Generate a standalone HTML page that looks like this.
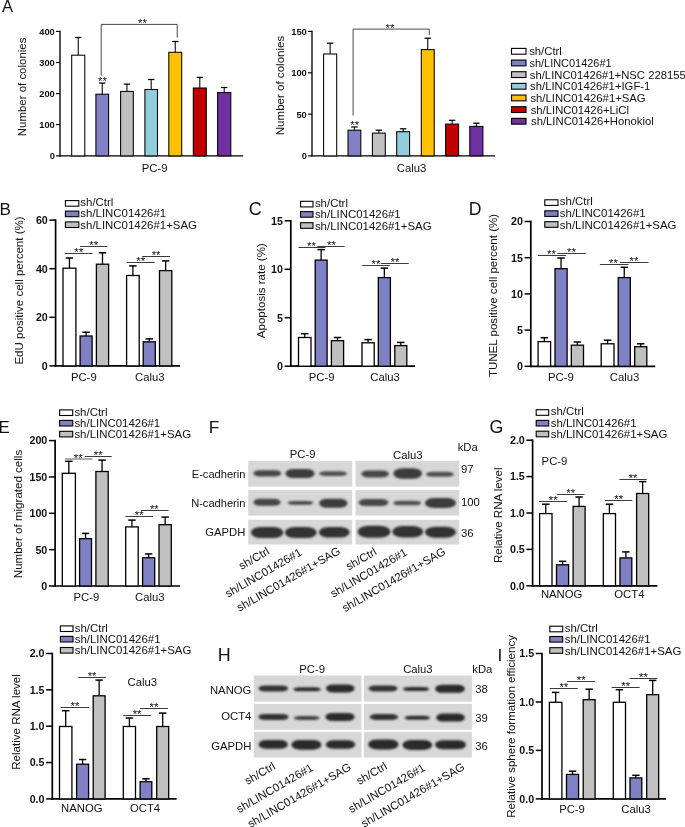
<!DOCTYPE html>
<html lang="en"><head><meta charset="utf-8"><title>Figure</title>
<style>html,body{margin:0;padding:0;background:#fff}svg{display:block}text{font-family:"Liberation Sans",Arial,Helvetica,sans-serif;fill:#111}</style>
</head><body>
<svg width="685" height="827" viewBox="0 0 685 827">
<defs><filter id="b1" x="-20%" y="-60%" width="140%" height="220%"><feGaussianBlur stdDeviation="1.3 1.0"/></filter><filter id="b2" x="-20%" y="-60%" width="140%" height="220%"><feGaussianBlur stdDeviation="0.8 0.6"/></filter></defs>
<rect x="0" y="0" width="685" height="827" fill="#fff"/>
<text x="2" y="12.4" font-size="16.5">A</text>
<text x="-0.6" y="215.1" font-size="17.2">B</text>
<text x="248.7" y="215" font-size="18">C</text>
<text x="468.7" y="215.2" font-size="17.6">D</text>
<text x="-1.4" y="432.6" font-size="16.9">E</text>
<text x="208.8" y="432.6" font-size="17.4">F</text>
<text x="489.5" y="433.3" font-size="17.8">G</text>
<text x="217.7" y="661.2" font-size="17.9">H</text>
<text x="497.4" y="660.5" font-size="17.4">I</text>
<line x1="60" y1="30.72" x2="60" y2="156.58" stroke="#000" stroke-width="1.35"/>
<line x1="59.33" y1="155.9" x2="243.1" y2="155.9" stroke="#000" stroke-width="1.35"/>
<line x1="56" y1="31.4" x2="60" y2="31.4" stroke="#000" stroke-width="1.15"/>
<text x="54.8" y="34.75" font-size="9.3" text-anchor="end" font-weight="bold" fill="#000">400</text>
<line x1="56" y1="62.5" x2="60" y2="62.5" stroke="#000" stroke-width="1.15"/>
<text x="54.8" y="65.85" font-size="9.3" text-anchor="end" font-weight="bold" fill="#000">300</text>
<line x1="56" y1="93.6" x2="60" y2="93.6" stroke="#000" stroke-width="1.15"/>
<text x="54.8" y="96.95" font-size="9.3" text-anchor="end" font-weight="bold" fill="#000">200</text>
<line x1="56" y1="124.6" x2="60" y2="124.6" stroke="#000" stroke-width="1.15"/>
<text x="54.8" y="127.95" font-size="9.3" text-anchor="end" font-weight="bold" fill="#000">100</text>
<line x1="56" y1="155.9" x2="60" y2="155.9" stroke="#000" stroke-width="1.15"/>
<text x="54.8" y="159.25" font-size="9.3" text-anchor="end" font-weight="bold" fill="#000">0</text>
<line x1="78.25" y1="37.5" x2="78.25" y2="55.2" stroke="#000" stroke-width="1.05"/>
<line x1="75.05" y1="37.5" x2="81.45" y2="37.5" stroke="#000" stroke-width="1.25"/>
<rect x="71.7" y="55.2" width="13.1" height="100.7" fill="#FFFFFF" stroke="#000" stroke-width="1.05"/>
<line x1="102.25" y1="83.1" x2="102.25" y2="94.2" stroke="#000" stroke-width="1.05"/>
<line x1="99.05" y1="83.1" x2="105.45" y2="83.1" stroke="#000" stroke-width="1.25"/>
<rect x="95.9" y="94.2" width="12.7" height="61.7" fill="#8080C4" stroke="#000" stroke-width="1.05"/>
<line x1="126.95" y1="84.1" x2="126.95" y2="91.4" stroke="#000" stroke-width="1.05"/>
<line x1="123.75" y1="84.1" x2="130.15" y2="84.1" stroke="#000" stroke-width="1.25"/>
<rect x="120.6" y="91.4" width="12.7" height="64.5" fill="#C0C0C0" stroke="#000" stroke-width="1.05"/>
<line x1="151.2" y1="79.5" x2="151.2" y2="89.5" stroke="#000" stroke-width="1.05"/>
<line x1="148" y1="79.5" x2="154.4" y2="79.5" stroke="#000" stroke-width="1.25"/>
<rect x="144.9" y="89.5" width="12.6" height="66.4" fill="#92CDDC" stroke="#000" stroke-width="1.05"/>
<line x1="175.25" y1="41.5" x2="175.25" y2="52.3" stroke="#000" stroke-width="1.05"/>
<line x1="172.05" y1="41.5" x2="178.45" y2="41.5" stroke="#000" stroke-width="1.25"/>
<rect x="168.8" y="52.3" width="12.9" height="103.6" fill="#FFC000" stroke="#000" stroke-width="1.05"/>
<line x1="199.8" y1="77.4" x2="199.8" y2="88" stroke="#000" stroke-width="1.05"/>
<line x1="196.6" y1="77.4" x2="203" y2="77.4" stroke="#000" stroke-width="1.25"/>
<rect x="193.3" y="88" width="13" height="67.9" fill="#C00000" stroke="#000" stroke-width="1.05"/>
<line x1="224.2" y1="87.5" x2="224.2" y2="92.6" stroke="#000" stroke-width="1.05"/>
<line x1="221" y1="87.5" x2="227.4" y2="87.5" stroke="#000" stroke-width="1.25"/>
<rect x="217.6" y="92.6" width="13.2" height="63.3" fill="#7030A0" stroke="#000" stroke-width="1.05"/>
<path d="M101.2 75.8 V24.4 H177.2 V37.6" fill="none" stroke="#333" stroke-width="0.9"/>
<text x="142.5" y="27.15" font-size="11.3" text-anchor="middle" fill="#222">**</text>
<text x="102.5" y="84.95" font-size="11.3" text-anchor="middle" fill="#222">**</text>
<text x="26.33" y="86.9" font-size="11.45" text-anchor="middle" transform="rotate(-90 26.33 86.9)">Number of colonies</text>
<text x="154.7" y="171.57" font-size="11.3" text-anchor="middle">PC-9</text>
<line x1="312" y1="30.72" x2="312" y2="156.58" stroke="#000" stroke-width="1.35"/>
<line x1="311.32" y1="155.9" x2="495" y2="155.9" stroke="#000" stroke-width="1.35"/>
<line x1="308" y1="31.4" x2="312" y2="31.4" stroke="#000" stroke-width="1.15"/>
<text x="306.8" y="34.75" font-size="9.3" text-anchor="end" font-weight="bold" fill="#000">150</text>
<line x1="308" y1="72.8" x2="312" y2="72.8" stroke="#000" stroke-width="1.15"/>
<text x="306.8" y="76.15" font-size="9.3" text-anchor="end" font-weight="bold" fill="#000">100</text>
<line x1="308" y1="114.2" x2="312" y2="114.2" stroke="#000" stroke-width="1.15"/>
<text x="306.8" y="117.55" font-size="9.3" text-anchor="end" font-weight="bold" fill="#000">50</text>
<line x1="308" y1="155.9" x2="312" y2="155.9" stroke="#000" stroke-width="1.15"/>
<text x="306.8" y="159.25" font-size="9.3" text-anchor="end" font-weight="bold" fill="#000">0</text>
<line x1="330.15" y1="43.2" x2="330.15" y2="54" stroke="#000" stroke-width="1.05"/>
<line x1="326.95" y1="43.2" x2="333.35" y2="43.2" stroke="#000" stroke-width="1.25"/>
<rect x="323.6" y="54" width="13.1" height="101.9" fill="#FFFFFF" stroke="#000" stroke-width="1.05"/>
<line x1="354.4" y1="127" x2="354.4" y2="130.2" stroke="#000" stroke-width="1.05"/>
<line x1="351.2" y1="127" x2="357.6" y2="127" stroke="#000" stroke-width="1.25"/>
<rect x="348" y="130.2" width="12.8" height="25.7" fill="#8080C4" stroke="#000" stroke-width="1.05"/>
<line x1="378.85" y1="130.2" x2="378.85" y2="133.1" stroke="#000" stroke-width="1.05"/>
<line x1="375.65" y1="130.2" x2="382.05" y2="130.2" stroke="#000" stroke-width="1.25"/>
<rect x="372.4" y="133.1" width="12.9" height="22.8" fill="#C0C0C0" stroke="#000" stroke-width="1.05"/>
<line x1="403.15" y1="128.8" x2="403.15" y2="131.7" stroke="#000" stroke-width="1.05"/>
<line x1="399.95" y1="128.8" x2="406.35" y2="128.8" stroke="#000" stroke-width="1.25"/>
<rect x="396.7" y="131.7" width="12.9" height="24.2" fill="#92CDDC" stroke="#000" stroke-width="1.05"/>
<line x1="427.75" y1="38.2" x2="427.75" y2="49.6" stroke="#000" stroke-width="1.05"/>
<line x1="424.55" y1="38.2" x2="430.95" y2="38.2" stroke="#000" stroke-width="1.25"/>
<rect x="421.3" y="49.6" width="12.9" height="106.3" fill="#FFC000" stroke="#000" stroke-width="1.05"/>
<line x1="452.1" y1="120.3" x2="452.1" y2="124.1" stroke="#000" stroke-width="1.05"/>
<line x1="448.9" y1="120.3" x2="455.3" y2="120.3" stroke="#000" stroke-width="1.25"/>
<rect x="445.6" y="124.1" width="13" height="31.8" fill="#C00000" stroke="#000" stroke-width="1.05"/>
<line x1="476.35" y1="123.2" x2="476.35" y2="126.4" stroke="#000" stroke-width="1.05"/>
<line x1="473.15" y1="123.2" x2="479.55" y2="123.2" stroke="#000" stroke-width="1.25"/>
<rect x="469.8" y="126.4" width="13.1" height="29.5" fill="#7030A0" stroke="#000" stroke-width="1.05"/>
<path d="M353.1 115.5 V29.1 H429.3 V35" fill="none" stroke="#333" stroke-width="0.9"/>
<text x="390" y="31.85" font-size="11.3" text-anchor="middle" fill="#222">**</text>
<text x="354.7" y="128.55" font-size="11.3" text-anchor="middle" fill="#222">**</text>
<text x="284.26" y="85.5" font-size="11.55" text-anchor="middle" transform="rotate(-90 284.26 85.5)">Number of colonies</text>
<text x="411.5" y="171.57" font-size="11.3" text-anchor="middle">Calu3</text>
<rect x="511.5" y="48.4" width="14.5" height="5.8" fill="#FFFFFF" stroke="#000" stroke-width="1.1"/>
<text x="529.2" y="55.37" font-size="11.3">sh/Ctrl</text>
<rect x="511.5" y="60.06" width="14.5" height="5.8" fill="#8080C4" stroke="#000" stroke-width="1.1"/>
<text x="529.5" y="67.03" font-size="11.3" textLength="82.1" lengthAdjust="spacingAndGlyphs">sh/LINC01426#1</text>
<rect x="511.5" y="71.72" width="14.5" height="5.8" fill="#C0C0C0" stroke="#000" stroke-width="1.1"/>
<text x="529.8" y="78.69" font-size="11.3">sh/LINC01426#1+NSC 228155</text>
<rect x="511.5" y="83.38" width="14.5" height="5.8" fill="#92CDDC" stroke="#000" stroke-width="1.1"/>
<text x="530.1" y="90.35" font-size="11.3">sh/LINC01426#1+IGF-1</text>
<rect x="511.5" y="95.04" width="14.5" height="5.8" fill="#FFC000" stroke="#000" stroke-width="1.1"/>
<text x="530.4" y="102.01" font-size="11.3">sh/LINC01426#1+SAG</text>
<rect x="511.5" y="106.7" width="14.5" height="5.8" fill="#C00000" stroke="#000" stroke-width="1.1"/>
<text x="530.7" y="113.67" font-size="11.3">sh/LINC01426+LiCl</text>
<rect x="511.5" y="118.36" width="14.5" height="5.8" fill="#7030A0" stroke="#000" stroke-width="1.1"/>
<text x="531" y="125.33" font-size="11.3">sh/LINC01426+Honokiol</text>
<line x1="55.6" y1="219.25" x2="55.6" y2="366.75" stroke="#000" stroke-width="1.7"/>
<line x1="54.75" y1="365.9" x2="180.1" y2="365.9" stroke="#000" stroke-width="1.7"/>
<line x1="49.4" y1="220.1" x2="55.6" y2="220.1" stroke="#000" stroke-width="1.5"/>
<text x="47.8" y="223.95" font-size="10.7" text-anchor="end" font-weight="bold" fill="#000">60</text>
<line x1="49.4" y1="268.7" x2="55.6" y2="268.7" stroke="#000" stroke-width="1.5"/>
<text x="47.8" y="272.55" font-size="10.7" text-anchor="end" font-weight="bold" fill="#000">40</text>
<line x1="49.4" y1="317.3" x2="55.6" y2="317.3" stroke="#000" stroke-width="1.5"/>
<text x="47.8" y="321.15" font-size="10.7" text-anchor="end" font-weight="bold" fill="#000">20</text>
<line x1="49.4" y1="365.9" x2="55.6" y2="365.9" stroke="#000" stroke-width="1.5"/>
<text x="47.8" y="369.75" font-size="10.7" text-anchor="end" font-weight="bold" fill="#000">0</text>
<line x1="69.45" y1="258" x2="69.45" y2="268.2" stroke="#000" stroke-width="1.3"/>
<line x1="65.75" y1="258" x2="73.15" y2="258" stroke="#000" stroke-width="1.5"/>
<rect x="63" y="268.2" width="12.9" height="97.7" fill="#FFFFFF" stroke="#000" stroke-width="1.3"/>
<line x1="86.1" y1="332.2" x2="86.1" y2="336" stroke="#000" stroke-width="1.3"/>
<line x1="82.4" y1="332.2" x2="89.8" y2="332.2" stroke="#000" stroke-width="1.5"/>
<rect x="80.1" y="336" width="12" height="29.9" fill="#8080C4" stroke="#000" stroke-width="1.3"/>
<line x1="102.5" y1="252.8" x2="102.5" y2="264.2" stroke="#000" stroke-width="1.3"/>
<line x1="98.8" y1="252.8" x2="106.2" y2="252.8" stroke="#000" stroke-width="1.5"/>
<rect x="96.4" y="264.2" width="12.2" height="101.7" fill="#C0C0C0" stroke="#000" stroke-width="1.3"/>
<line x1="132.9" y1="265.9" x2="132.9" y2="275.5" stroke="#000" stroke-width="1.3"/>
<line x1="129.2" y1="265.9" x2="136.6" y2="265.9" stroke="#000" stroke-width="1.5"/>
<rect x="126.6" y="275.5" width="12.6" height="90.4" fill="#FFFFFF" stroke="#000" stroke-width="1.3"/>
<line x1="149.25" y1="338.9" x2="149.25" y2="341.8" stroke="#000" stroke-width="1.3"/>
<line x1="145.55" y1="338.9" x2="152.95" y2="338.9" stroke="#000" stroke-width="1.5"/>
<rect x="143.2" y="341.8" width="12.1" height="24.1" fill="#8080C4" stroke="#000" stroke-width="1.3"/>
<line x1="165.65" y1="260.9" x2="165.65" y2="270.6" stroke="#000" stroke-width="1.3"/>
<line x1="161.95" y1="260.9" x2="169.35" y2="260.9" stroke="#000" stroke-width="1.5"/>
<rect x="159.5" y="270.6" width="12.3" height="95.3" fill="#C0C0C0" stroke="#000" stroke-width="1.3"/>
<line x1="64.9" y1="253.5" x2="92.6" y2="253.5" stroke="#3a3a3a" stroke-width="1"/>
<text x="78.75" y="255.95" font-size="11.3" text-anchor="middle" fill="#222">**</text>
<line x1="80" y1="246.5" x2="107.3" y2="246.5" stroke="#3a3a3a" stroke-width="1"/>
<text x="93.65" y="248.95" font-size="11.3" text-anchor="middle" fill="#222">**</text>
<line x1="126.7" y1="262.5" x2="154.7" y2="262.5" stroke="#3a3a3a" stroke-width="1"/>
<text x="140.7" y="264.95" font-size="11.3" text-anchor="middle" fill="#222">**</text>
<line x1="142.2" y1="256.5" x2="170" y2="256.5" stroke="#3a3a3a" stroke-width="1"/>
<text x="156.1" y="258.95" font-size="11.3" text-anchor="middle" fill="#222">**</text>
<rect x="65.4" y="200.6" width="13.4" height="5.6" fill="#FFFFFF" stroke="#000" stroke-width="1.1"/>
<text x="80.3" y="206.22" font-size="11.45">sh/Ctrl</text>
<rect x="65.4" y="211.1" width="13.4" height="5.6" fill="#8080C4" stroke="#000" stroke-width="1.1"/>
<text x="80.3" y="217.32" font-size="11.45">sh/LINC01426#1</text>
<rect x="65.4" y="221.9" width="13.4" height="5.6" fill="#C0C0C0" stroke="#000" stroke-width="1.1"/>
<text x="80.3" y="228.72" font-size="11.45">sh/LINC01426#1+SAG</text>
<text x="23.07" y="290.5" font-size="11.55" text-anchor="middle" transform="rotate(-90 23.07 290.5)">EdU positive cell percent (%)</text>
<text x="83.8" y="381.07" font-size="11.3" text-anchor="middle">PC-9</text>
<text x="149.8" y="381.07" font-size="11.3" text-anchor="middle">Calu3</text>
<line x1="290.8" y1="219.95" x2="290.8" y2="367.05" stroke="#000" stroke-width="1.7"/>
<line x1="289.95" y1="366.2" x2="415.1" y2="366.2" stroke="#000" stroke-width="1.7"/>
<line x1="284.6" y1="220.8" x2="290.8" y2="220.8" stroke="#000" stroke-width="1.5"/>
<text x="283" y="224.65" font-size="10.7" text-anchor="end" font-weight="bold" fill="#000">15</text>
<line x1="284.6" y1="269.3" x2="290.8" y2="269.3" stroke="#000" stroke-width="1.5"/>
<text x="283" y="273.15" font-size="10.7" text-anchor="end" font-weight="bold" fill="#000">10</text>
<line x1="284.6" y1="317.7" x2="290.8" y2="317.7" stroke="#000" stroke-width="1.5"/>
<text x="283" y="321.55" font-size="10.7" text-anchor="end" font-weight="bold" fill="#000">5</text>
<line x1="284.6" y1="366.2" x2="290.8" y2="366.2" stroke="#000" stroke-width="1.5"/>
<text x="283" y="370.05" font-size="10.7" text-anchor="end" font-weight="bold" fill="#000">0</text>
<line x1="304.75" y1="333.7" x2="304.75" y2="337.5" stroke="#000" stroke-width="1.3"/>
<line x1="301.05" y1="333.7" x2="308.45" y2="333.7" stroke="#000" stroke-width="1.5"/>
<rect x="298.5" y="337.5" width="12.5" height="28.7" fill="#FFFFFF" stroke="#000" stroke-width="1.3"/>
<line x1="321.15" y1="249.6" x2="321.15" y2="260.1" stroke="#000" stroke-width="1.3"/>
<line x1="317.45" y1="249.6" x2="324.85" y2="249.6" stroke="#000" stroke-width="1.5"/>
<rect x="315.2" y="260.1" width="11.9" height="106.1" fill="#8080C4" stroke="#000" stroke-width="1.3"/>
<line x1="337.5" y1="337.5" x2="337.5" y2="340.7" stroke="#000" stroke-width="1.3"/>
<line x1="333.8" y1="337.5" x2="341.2" y2="337.5" stroke="#000" stroke-width="1.5"/>
<rect x="331.4" y="340.7" width="12.2" height="25.5" fill="#C0C0C0" stroke="#000" stroke-width="1.3"/>
<line x1="368.1" y1="339.6" x2="368.1" y2="342.8" stroke="#000" stroke-width="1.3"/>
<line x1="364.4" y1="339.6" x2="371.8" y2="339.6" stroke="#000" stroke-width="1.5"/>
<rect x="362" y="342.8" width="12.2" height="23.4" fill="#FFFFFF" stroke="#000" stroke-width="1.3"/>
<line x1="384.35" y1="268.1" x2="384.35" y2="277.6" stroke="#000" stroke-width="1.3"/>
<line x1="380.65" y1="268.1" x2="388.05" y2="268.1" stroke="#000" stroke-width="1.5"/>
<rect x="378.3" y="277.6" width="12.1" height="88.6" fill="#8080C4" stroke="#000" stroke-width="1.3"/>
<line x1="400.8" y1="342.4" x2="400.8" y2="345.6" stroke="#000" stroke-width="1.3"/>
<line x1="397.1" y1="342.4" x2="404.5" y2="342.4" stroke="#000" stroke-width="1.5"/>
<rect x="394.8" y="345.6" width="12" height="20.6" fill="#C0C0C0" stroke="#000" stroke-width="1.3"/>
<line x1="298.5" y1="247.5" x2="325.4" y2="247.5" stroke="#3a3a3a" stroke-width="1"/>
<text x="311.5" y="249.95" font-size="11.3" text-anchor="middle" fill="#222">**</text>
<line x1="317.4" y1="246.5" x2="344.7" y2="246.5" stroke="#3a3a3a" stroke-width="1"/>
<text x="331.5" y="248.95" font-size="11.3" text-anchor="middle" fill="#222">**</text>
<line x1="362.2" y1="265.5" x2="389.9" y2="265.5" stroke="#3a3a3a" stroke-width="1"/>
<text x="376" y="267.95" font-size="11.3" text-anchor="middle" fill="#222">**</text>
<line x1="380.8" y1="263.5" x2="408.8" y2="263.5" stroke="#3a3a3a" stroke-width="1"/>
<text x="395" y="265.95" font-size="11.3" text-anchor="middle" fill="#222">**</text>
<rect x="300.6" y="201.3" width="12.4" height="5.6" fill="#FFFFFF" stroke="#000" stroke-width="1.1"/>
<text x="314.9" y="206.92" font-size="11.45">sh/Ctrl</text>
<rect x="300.6" y="211.6" width="12.4" height="5.6" fill="#8080C4" stroke="#000" stroke-width="1.1"/>
<text x="314.9" y="217.82" font-size="11.45">sh/LINC01426#1</text>
<rect x="300.6" y="222.7" width="12.4" height="5.6" fill="#C0C0C0" stroke="#000" stroke-width="1.1"/>
<text x="314.9" y="229.52" font-size="11.45">sh/LINC01426#1+SAG</text>
<text x="264.76" y="290.7" font-size="11.55" text-anchor="middle" transform="rotate(-90 264.76 290.7)">Apoptosis rate (%)</text>
<text x="321.6" y="381.07" font-size="11.3" text-anchor="middle">PC-9</text>
<text x="385" y="381.07" font-size="11.3" text-anchor="middle">Calu3</text>
<line x1="530.8" y1="220.65" x2="530.8" y2="367.15" stroke="#000" stroke-width="1.7"/>
<line x1="529.95" y1="366.3" x2="655.3" y2="366.3" stroke="#000" stroke-width="1.7"/>
<line x1="524.6" y1="221.5" x2="530.8" y2="221.5" stroke="#000" stroke-width="1.5"/>
<text x="523" y="225.35" font-size="10.7" text-anchor="end" font-weight="bold" fill="#000">20</text>
<line x1="524.6" y1="257.7" x2="530.8" y2="257.7" stroke="#000" stroke-width="1.5"/>
<text x="523" y="261.55" font-size="10.7" text-anchor="end" font-weight="bold" fill="#000">15</text>
<line x1="524.6" y1="293.9" x2="530.8" y2="293.9" stroke="#000" stroke-width="1.5"/>
<text x="523" y="297.75" font-size="10.7" text-anchor="end" font-weight="bold" fill="#000">10</text>
<line x1="524.6" y1="330.1" x2="530.8" y2="330.1" stroke="#000" stroke-width="1.5"/>
<text x="523" y="333.95" font-size="10.7" text-anchor="end" font-weight="bold" fill="#000">5</text>
<line x1="524.6" y1="366.3" x2="530.8" y2="366.3" stroke="#000" stroke-width="1.5"/>
<text x="523" y="370.15" font-size="10.7" text-anchor="end" font-weight="bold" fill="#000">0</text>
<line x1="544.35" y1="337.7" x2="544.35" y2="341.6" stroke="#000" stroke-width="1.3"/>
<line x1="540.65" y1="337.7" x2="548.05" y2="337.7" stroke="#000" stroke-width="1.5"/>
<rect x="538.1" y="341.6" width="12.5" height="24.7" fill="#FFFFFF" stroke="#000" stroke-width="1.3"/>
<line x1="561.05" y1="258" x2="561.05" y2="268.7" stroke="#000" stroke-width="1.3"/>
<line x1="557.35" y1="258" x2="564.75" y2="258" stroke="#000" stroke-width="1.5"/>
<rect x="555" y="268.7" width="12.1" height="97.6" fill="#8080C4" stroke="#000" stroke-width="1.3"/>
<line x1="577.4" y1="342" x2="577.4" y2="345.2" stroke="#000" stroke-width="1.3"/>
<line x1="573.7" y1="342" x2="581.1" y2="342" stroke="#000" stroke-width="1.5"/>
<rect x="571.3" y="345.2" width="12.2" height="21.1" fill="#C0C0C0" stroke="#000" stroke-width="1.3"/>
<line x1="607.6" y1="340.2" x2="607.6" y2="343.8" stroke="#000" stroke-width="1.3"/>
<line x1="603.9" y1="340.2" x2="611.3" y2="340.2" stroke="#000" stroke-width="1.5"/>
<rect x="601.2" y="343.8" width="12.8" height="22.5" fill="#FFFFFF" stroke="#000" stroke-width="1.3"/>
<line x1="624.25" y1="267.3" x2="624.25" y2="277.6" stroke="#000" stroke-width="1.3"/>
<line x1="620.55" y1="267.3" x2="627.95" y2="267.3" stroke="#000" stroke-width="1.5"/>
<rect x="618.2" y="277.6" width="12.1" height="88.7" fill="#8080C4" stroke="#000" stroke-width="1.3"/>
<line x1="640.75" y1="343.8" x2="640.75" y2="346.7" stroke="#000" stroke-width="1.3"/>
<line x1="637.05" y1="343.8" x2="644.45" y2="343.8" stroke="#000" stroke-width="1.5"/>
<rect x="634.7" y="346.7" width="12.1" height="19.6" fill="#C0C0C0" stroke="#000" stroke-width="1.3"/>
<line x1="538" y1="255.5" x2="565.9" y2="255.5" stroke="#3a3a3a" stroke-width="1"/>
<text x="551.5" y="257.95" font-size="11.3" text-anchor="middle" fill="#222">**</text>
<line x1="557.3" y1="253.5" x2="585.9" y2="253.5" stroke="#3a3a3a" stroke-width="1"/>
<text x="571.5" y="255.95" font-size="11.3" text-anchor="middle" fill="#222">**</text>
<line x1="599.9" y1="264.5" x2="628.5" y2="264.5" stroke="#3a3a3a" stroke-width="1"/>
<text x="613.5" y="266.95" font-size="11.3" text-anchor="middle" fill="#222">**</text>
<line x1="619.9" y1="262.5" x2="648.5" y2="262.5" stroke="#3a3a3a" stroke-width="1"/>
<text x="634" y="264.95" font-size="11.3" text-anchor="middle" fill="#222">**</text>
<rect x="544.8" y="199.8" width="13.2" height="5.6" fill="#FFFFFF" stroke="#000" stroke-width="1.1"/>
<text x="559.8" y="205.42" font-size="11.45">sh/Ctrl</text>
<rect x="544.8" y="210.8" width="13.2" height="5.6" fill="#8080C4" stroke="#000" stroke-width="1.1"/>
<text x="559.8" y="217.02" font-size="11.45">sh/LINC01426#1</text>
<rect x="544.8" y="221.7" width="13.2" height="5.6" fill="#C0C0C0" stroke="#000" stroke-width="1.1"/>
<text x="559.8" y="228.52" font-size="11.45">sh/LINC01426#1+SAG</text>
<text x="497.06" y="295.5" font-size="11.55" text-anchor="middle" transform="rotate(-90 497.06 295.5)">TUNEL positive cell percent (%)</text>
<text x="560.9" y="381.07" font-size="11.3" text-anchor="middle">PC-9</text>
<text x="624.5" y="381.07" font-size="11.3" text-anchor="middle">Calu3</text>
<line x1="55.1" y1="439.75" x2="55.1" y2="586.85" stroke="#000" stroke-width="1.7"/>
<line x1="54.25" y1="586" x2="180.1" y2="586" stroke="#000" stroke-width="1.7"/>
<line x1="48.9" y1="440.6" x2="55.1" y2="440.6" stroke="#000" stroke-width="1.5"/>
<text x="47.3" y="444.45" font-size="10.7" text-anchor="end" font-weight="bold" fill="#000">200</text>
<line x1="48.9" y1="476.95" x2="55.1" y2="476.95" stroke="#000" stroke-width="1.5"/>
<text x="47.3" y="480.8" font-size="10.7" text-anchor="end" font-weight="bold" fill="#000">150</text>
<line x1="48.9" y1="513.3" x2="55.1" y2="513.3" stroke="#000" stroke-width="1.5"/>
<text x="47.3" y="517.15" font-size="10.7" text-anchor="end" font-weight="bold" fill="#000">100</text>
<line x1="48.9" y1="549.65" x2="55.1" y2="549.65" stroke="#000" stroke-width="1.5"/>
<text x="47.3" y="553.5" font-size="10.7" text-anchor="end" font-weight="bold" fill="#000">50</text>
<line x1="48.9" y1="586" x2="55.1" y2="586" stroke="#000" stroke-width="1.5"/>
<text x="47.3" y="589.85" font-size="10.7" text-anchor="end" font-weight="bold" fill="#000">0</text>
<line x1="68.85" y1="461.3" x2="68.85" y2="473.3" stroke="#000" stroke-width="1.3"/>
<line x1="65.15" y1="461.3" x2="72.55" y2="461.3" stroke="#000" stroke-width="1.5"/>
<rect x="62.3" y="473.3" width="13.1" height="112.7" fill="#FFFFFF" stroke="#000" stroke-width="1.3"/>
<line x1="85.55" y1="533.4" x2="85.55" y2="538.7" stroke="#000" stroke-width="1.3"/>
<line x1="81.85" y1="533.4" x2="89.25" y2="533.4" stroke="#000" stroke-width="1.5"/>
<rect x="79.6" y="538.7" width="11.9" height="47.3" fill="#8080C4" stroke="#000" stroke-width="1.3"/>
<line x1="102.05" y1="460.1" x2="102.05" y2="471.5" stroke="#000" stroke-width="1.3"/>
<line x1="98.35" y1="460.1" x2="105.75" y2="460.1" stroke="#000" stroke-width="1.5"/>
<rect x="95.9" y="471.5" width="12.3" height="114.5" fill="#C0C0C0" stroke="#000" stroke-width="1.3"/>
<line x1="131.95" y1="520.1" x2="131.95" y2="526.9" stroke="#000" stroke-width="1.3"/>
<line x1="128.25" y1="520.1" x2="135.65" y2="520.1" stroke="#000" stroke-width="1.5"/>
<rect x="125.7" y="526.9" width="12.5" height="59.1" fill="#FFFFFF" stroke="#000" stroke-width="1.3"/>
<line x1="148.65" y1="553.9" x2="148.65" y2="557.7" stroke="#000" stroke-width="1.3"/>
<line x1="144.95" y1="553.9" x2="152.35" y2="553.9" stroke="#000" stroke-width="1.5"/>
<rect x="142.6" y="557.7" width="12.1" height="28.3" fill="#8080C4" stroke="#000" stroke-width="1.3"/>
<line x1="165.15" y1="517.1" x2="165.15" y2="524.7" stroke="#000" stroke-width="1.3"/>
<line x1="161.45" y1="517.1" x2="168.85" y2="517.1" stroke="#000" stroke-width="1.5"/>
<rect x="159" y="524.7" width="12.3" height="61.3" fill="#C0C0C0" stroke="#000" stroke-width="1.3"/>
<line x1="64.9" y1="459" x2="92.5" y2="459" stroke="#999" stroke-width="1.6"/>
<text x="78.2" y="461.75" font-size="11.3" text-anchor="middle" fill="#222">**</text>
<line x1="84.7" y1="456.5" x2="111.8" y2="456.5" stroke="#3a3a3a" stroke-width="1"/>
<text x="98.25" y="458.95" font-size="11.3" text-anchor="middle" fill="#222">**</text>
<line x1="125.4" y1="516.5" x2="153" y2="516.5" stroke="#3a3a3a" stroke-width="1"/>
<text x="139.2" y="518.95" font-size="11.3" text-anchor="middle" fill="#222">**</text>
<line x1="141" y1="510.5" x2="168.6" y2="510.5" stroke="#3a3a3a" stroke-width="1"/>
<text x="154.3" y="512.95" font-size="11.3" text-anchor="middle" fill="#222">**</text>
<rect x="59.6" y="409.9" width="13.1" height="5.6" fill="#FFFFFF" stroke="#000" stroke-width="1.1"/>
<text x="74.4" y="415.52" font-size="11.45">sh/Ctrl</text>
<rect x="59.6" y="420.4" width="13.1" height="5.6" fill="#8080C4" stroke="#000" stroke-width="1.1"/>
<text x="74.4" y="426.62" font-size="11.45">sh/LINC01426#1</text>
<rect x="59.6" y="431.3" width="13.1" height="5.6" fill="#C0C0C0" stroke="#000" stroke-width="1.1"/>
<text x="74.4" y="438.12" font-size="11.45">sh/LINC01426#1+SAG</text>
<text x="21.57" y="514" font-size="11.55" text-anchor="middle" transform="rotate(-90 21.57 514)">Number of migrated cells</text>
<text x="86.4" y="600.57" font-size="11.3" text-anchor="middle">PC-9</text>
<text x="149.8" y="600.57" font-size="11.3" text-anchor="middle">Calu3</text>
<rect x="248.2" y="460.8" width="104" height="25.9" fill="#D7D7D7"/>
<rect x="253.4" y="470.2" width="27.8" height="6.2" rx="6.5" ry="3.1" fill="#464646" filter="url(#b1)"/>
<rect x="285.4" y="468.9" width="29.2" height="9.2" rx="8.28" ry="4.6" fill="#3a3a3a" filter="url(#b1)"/>
<rect x="319.1" y="471.2" width="28" height="4.8" rx="6.5" ry="2.4" fill="#505050" filter="url(#b1)"/>
<rect x="248.2" y="490.1" width="104" height="25.5" fill="#D7D7D7"/>
<rect x="253.4" y="498.7" width="27.2" height="7" rx="6.5" ry="3.5" fill="#464646" filter="url(#b1)"/>
<rect x="287.6" y="500.9" width="25.7" height="3.8" rx="6.5" ry="1.9" fill="#464646" filter="url(#b1)"/>
<rect x="319.1" y="498.7" width="28.4" height="9" rx="8.1" ry="4.5" fill="#3a3a3a" filter="url(#b1)"/>
<rect x="248.2" y="519.7" width="104" height="24.8" fill="#D7D7D7"/>
<rect x="251" y="527" width="32.2" height="11" rx="9.9" ry="5.5" fill="#303030" filter="url(#b1)"/>
<rect x="285" y="527" width="31.6" height="11" rx="9.9" ry="5.5" fill="#303030" filter="url(#b1)"/>
<rect x="318.9" y="527" width="30.7" height="10.4" rx="9.36" ry="5.2" fill="#303030" filter="url(#b1)"/>
<rect x="355.5" y="460.8" width="103.8" height="25.9" fill="#D7D7D7"/>
<rect x="361.3" y="470.4" width="27.7" height="7" rx="6.5" ry="3.5" fill="#464646" filter="url(#b1)"/>
<rect x="393.3" y="468.3" width="28.8" height="10.4" rx="9.36" ry="5.2" fill="#3a3a3a" filter="url(#b1)"/>
<rect x="426" y="471.7" width="27.8" height="5" rx="6.5" ry="2.5" fill="#505050" filter="url(#b1)"/>
<rect x="355.5" y="490.1" width="103.8" height="25.5" fill="#D7D7D7"/>
<rect x="358.6" y="499.1" width="29.8" height="7" rx="6.5" ry="3.5" fill="#464646" filter="url(#b1)"/>
<rect x="393.3" y="500.7" width="27.8" height="4.6" rx="6.5" ry="2.3" fill="#505050" filter="url(#b1)"/>
<rect x="425" y="498" width="30.9" height="10" rx="9" ry="5" fill="#3a3a3a" filter="url(#b1)"/>
<rect x="355.5" y="519.7" width="103.8" height="24.8" fill="#D7D7D7"/>
<rect x="357.6" y="525.8" width="32.9" height="12" rx="10.8" ry="6" fill="#303030" filter="url(#b1)"/>
<rect x="392.3" y="526.05" width="30.9" height="11.5" rx="10.35" ry="5.75" fill="#303030" filter="url(#b1)"/>
<rect x="425" y="526.7" width="30.9" height="11" rx="9.9" ry="5.5" fill="#303030" filter="url(#b1)"/>
<text x="302.7" y="458.47" font-size="11.3" text-anchor="middle">PC-9</text>
<text x="407.8" y="458.57" font-size="11.3" text-anchor="middle">Calu3</text>
<text x="245.4" y="478.3" font-size="11.1" text-anchor="end">E-cadherin</text>
<text x="245.4" y="506.8" font-size="11.1" text-anchor="end">N-cadherin</text>
<text x="245.4" y="536.3" font-size="11.3" text-anchor="end">GAPDH</text>
<text x="457.7" y="451.4" font-size="11.3">kDa</text>
<text x="461" y="472.8" font-size="11.3">97</text>
<text x="461" y="506" font-size="11.3">100</text>
<text x="461" y="537.2" font-size="11.3">36</text>
<text x="270.3" y="553.5" font-size="11.5" text-anchor="end" transform="rotate(-30 270.3 553.5)">sh/Ctrl</text>
<text x="302.7" y="554.6" font-size="11.5" text-anchor="end" transform="rotate(-30 302.7 554.6)">sh/LINC01426#1</text>
<text x="341.2" y="553.2" font-size="11.5" text-anchor="end" transform="rotate(-30 341.2 553.2)">sh/LINC01426#1+SAG</text>
<text x="377.5" y="554" font-size="11.5" text-anchor="end" transform="rotate(-30 377.5 554)">sh/Ctrl</text>
<text x="408" y="554.6" font-size="11.5" text-anchor="end" transform="rotate(-30 408 554.6)">sh/LINC01426#1</text>
<text x="446.5" y="553.7" font-size="11.5" text-anchor="end" transform="rotate(-30 446.5 553.7)">sh/LINC01426#1+SAG</text>
<line x1="532.6" y1="439.35" x2="532.6" y2="586.65" stroke="#000" stroke-width="1.7"/>
<line x1="531.75" y1="585.8" x2="657.4" y2="585.8" stroke="#000" stroke-width="1.7"/>
<line x1="526.4" y1="440.2" x2="532.6" y2="440.2" stroke="#000" stroke-width="1.5"/>
<text x="524.8" y="444.05" font-size="10.7" text-anchor="end" font-weight="bold" fill="#000">2.0</text>
<line x1="526.4" y1="476.6" x2="532.6" y2="476.6" stroke="#000" stroke-width="1.5"/>
<text x="524.8" y="480.45" font-size="10.7" text-anchor="end" font-weight="bold" fill="#000">1.5</text>
<line x1="526.4" y1="513" x2="532.6" y2="513" stroke="#000" stroke-width="1.5"/>
<text x="524.8" y="516.85" font-size="10.7" text-anchor="end" font-weight="bold" fill="#000">1.0</text>
<line x1="526.4" y1="549.4" x2="532.6" y2="549.4" stroke="#000" stroke-width="1.5"/>
<text x="524.8" y="553.25" font-size="10.7" text-anchor="end" font-weight="bold" fill="#000">0.5</text>
<line x1="526.4" y1="585.8" x2="532.6" y2="585.8" stroke="#000" stroke-width="1.5"/>
<text x="524.8" y="589.65" font-size="10.7" text-anchor="end" font-weight="bold" fill="#000">0.0</text>
<line x1="545.8" y1="504.2" x2="545.8" y2="513.6" stroke="#000" stroke-width="1.3"/>
<line x1="542.1" y1="504.2" x2="549.5" y2="504.2" stroke="#000" stroke-width="1.5"/>
<rect x="539.6" y="513.6" width="12.4" height="72.2" fill="#FFFFFF" stroke="#000" stroke-width="1.3"/>
<line x1="562.55" y1="561.3" x2="562.55" y2="564.8" stroke="#000" stroke-width="1.3"/>
<line x1="558.85" y1="561.3" x2="566.25" y2="561.3" stroke="#000" stroke-width="1.5"/>
<rect x="556.5" y="564.8" width="12.1" height="21" fill="#8080C4" stroke="#000" stroke-width="1.3"/>
<line x1="579.1" y1="497" x2="579.1" y2="506.4" stroke="#000" stroke-width="1.3"/>
<line x1="575.4" y1="497" x2="582.8" y2="497" stroke="#000" stroke-width="1.5"/>
<rect x="573.1" y="506.4" width="12" height="79.4" fill="#C0C0C0" stroke="#000" stroke-width="1.3"/>
<line x1="609.4" y1="504.2" x2="609.4" y2="513.6" stroke="#000" stroke-width="1.3"/>
<line x1="605.7" y1="504.2" x2="613.1" y2="504.2" stroke="#000" stroke-width="1.5"/>
<rect x="603.3" y="513.6" width="12.2" height="72.2" fill="#FFFFFF" stroke="#000" stroke-width="1.3"/>
<line x1="625.9" y1="551.9" x2="625.9" y2="557.9" stroke="#000" stroke-width="1.3"/>
<line x1="622.2" y1="551.9" x2="629.6" y2="551.9" stroke="#000" stroke-width="1.5"/>
<rect x="620" y="557.9" width="11.8" height="27.9" fill="#8080C4" stroke="#000" stroke-width="1.3"/>
<line x1="642.65" y1="481.6" x2="642.65" y2="493.5" stroke="#000" stroke-width="1.3"/>
<line x1="638.95" y1="481.6" x2="646.35" y2="481.6" stroke="#000" stroke-width="1.5"/>
<rect x="636.6" y="493.5" width="12.1" height="92.3" fill="#C0C0C0" stroke="#000" stroke-width="1.3"/>
<line x1="539" y1="501.5" x2="567.3" y2="501.5" stroke="#3a3a3a" stroke-width="1"/>
<text x="553.15" y="503.95" font-size="11.3" text-anchor="middle" fill="#222">**</text>
<line x1="556.9" y1="494.5" x2="584.6" y2="494.5" stroke="#3a3a3a" stroke-width="1"/>
<text x="570.75" y="496.95" font-size="11.3" text-anchor="middle" fill="#222">**</text>
<line x1="605" y1="500.5" x2="632.3" y2="500.5" stroke="#3a3a3a" stroke-width="1"/>
<text x="618.65" y="502.95" font-size="11.3" text-anchor="middle" fill="#222">**</text>
<line x1="619.4" y1="479.5" x2="646.7" y2="479.5" stroke="#3a3a3a" stroke-width="1"/>
<text x="633.05" y="481.95" font-size="11.3" text-anchor="middle" fill="#222">**</text>
<rect x="536.2" y="409.7" width="12.5" height="5.6" fill="#FFFFFF" stroke="#000" stroke-width="1.1"/>
<text x="550.7" y="415.32" font-size="11.45">sh/Ctrl</text>
<rect x="536.2" y="420.4" width="12.5" height="5.6" fill="#8080C4" stroke="#000" stroke-width="1.1"/>
<text x="550.7" y="426.62" font-size="11.45">sh/LINC01426#1</text>
<rect x="536.2" y="431.2" width="12.5" height="5.6" fill="#C0C0C0" stroke="#000" stroke-width="1.1"/>
<text x="550.7" y="438.02" font-size="11.45">sh/LINC01426#1+SAG</text>
<text x="541.6" y="464.6" font-size="11.3">PC-9</text>
<text x="501.66" y="515.3" font-size="11.55" text-anchor="middle" transform="rotate(-90 501.66 515.3)">Relative RNA level</text>
<text x="561.6" y="598.07" font-size="11.3" text-anchor="middle">NANOG</text>
<text x="629.4" y="598.07" font-size="11.3" text-anchor="middle">OCT4</text>
<line x1="52.3" y1="652.65" x2="52.3" y2="799.75" stroke="#000" stroke-width="1.7"/>
<line x1="51.45" y1="798.9" x2="176.6" y2="798.9" stroke="#000" stroke-width="1.7"/>
<line x1="46.1" y1="653.5" x2="52.3" y2="653.5" stroke="#000" stroke-width="1.5"/>
<text x="44.5" y="657.35" font-size="10.7" text-anchor="end" font-weight="bold" fill="#000">2.0</text>
<line x1="46.1" y1="689.85" x2="52.3" y2="689.85" stroke="#000" stroke-width="1.5"/>
<text x="44.5" y="693.7" font-size="10.7" text-anchor="end" font-weight="bold" fill="#000">1.5</text>
<line x1="46.1" y1="726.2" x2="52.3" y2="726.2" stroke="#000" stroke-width="1.5"/>
<text x="44.5" y="730.05" font-size="10.7" text-anchor="end" font-weight="bold" fill="#000">1.0</text>
<line x1="46.1" y1="762.55" x2="52.3" y2="762.55" stroke="#000" stroke-width="1.5"/>
<text x="44.5" y="766.4" font-size="10.7" text-anchor="end" font-weight="bold" fill="#000">0.5</text>
<line x1="46.1" y1="798.9" x2="52.3" y2="798.9" stroke="#000" stroke-width="1.5"/>
<text x="44.5" y="802.75" font-size="10.7" text-anchor="end" font-weight="bold" fill="#000">0.0</text>
<line x1="65.7" y1="710.7" x2="65.7" y2="726.5" stroke="#000" stroke-width="1.3"/>
<line x1="62" y1="710.7" x2="69.4" y2="710.7" stroke="#000" stroke-width="1.5"/>
<rect x="59.5" y="726.5" width="12.4" height="72.4" fill="#FFFFFF" stroke="#000" stroke-width="1.3"/>
<line x1="82.6" y1="759.5" x2="82.6" y2="764.2" stroke="#000" stroke-width="1.3"/>
<line x1="78.9" y1="759.5" x2="86.3" y2="759.5" stroke="#000" stroke-width="1.5"/>
<rect x="76.6" y="764.2" width="12" height="34.7" fill="#8080C4" stroke="#000" stroke-width="1.3"/>
<line x1="99.15" y1="680.1" x2="99.15" y2="695.8" stroke="#000" stroke-width="1.3"/>
<line x1="95.45" y1="680.1" x2="102.85" y2="680.1" stroke="#000" stroke-width="1.5"/>
<rect x="93.2" y="695.8" width="11.9" height="103.1" fill="#C0C0C0" stroke="#000" stroke-width="1.3"/>
<line x1="129.4" y1="718" x2="129.4" y2="726.5" stroke="#000" stroke-width="1.3"/>
<line x1="125.7" y1="718" x2="133.1" y2="718" stroke="#000" stroke-width="1.5"/>
<rect x="123.3" y="726.5" width="12.2" height="72.4" fill="#FFFFFF" stroke="#000" stroke-width="1.3"/>
<line x1="145.95" y1="778.8" x2="145.95" y2="781.7" stroke="#000" stroke-width="1.3"/>
<line x1="142.25" y1="778.8" x2="149.65" y2="778.8" stroke="#000" stroke-width="1.5"/>
<rect x="140.1" y="781.7" width="11.7" height="17.2" fill="#8080C4" stroke="#000" stroke-width="1.3"/>
<line x1="162.7" y1="713.1" x2="162.7" y2="726.5" stroke="#000" stroke-width="1.3"/>
<line x1="159" y1="713.1" x2="166.4" y2="713.1" stroke="#000" stroke-width="1.5"/>
<rect x="156.7" y="726.5" width="12" height="72.4" fill="#C0C0C0" stroke="#000" stroke-width="1.3"/>
<line x1="60.7" y1="707.5" x2="89.1" y2="707.5" stroke="#3a3a3a" stroke-width="1"/>
<text x="74.9" y="709.95" font-size="11.3" text-anchor="middle" fill="#222">**</text>
<line x1="78.2" y1="677.5" x2="106" y2="677.5" stroke="#3a3a3a" stroke-width="1"/>
<text x="92.1" y="679.95" font-size="11.3" text-anchor="middle" fill="#222">**</text>
<line x1="123.2" y1="715.5" x2="150.9" y2="715.5" stroke="#3a3a3a" stroke-width="1"/>
<text x="137.05" y="717.95" font-size="11.3" text-anchor="middle" fill="#222">**</text>
<line x1="140.1" y1="708.5" x2="167.9" y2="708.5" stroke="#3a3a3a" stroke-width="1"/>
<text x="154" y="710.95" font-size="11.3" text-anchor="middle" fill="#222">**</text>
<rect x="60.4" y="625.9" width="12.6" height="5.6" fill="#FFFFFF" stroke="#000" stroke-width="1.1"/>
<text x="74.7" y="631.52" font-size="11.45">sh/Ctrl</text>
<rect x="60.4" y="636.4" width="12.6" height="5.6" fill="#8080C4" stroke="#000" stroke-width="1.1"/>
<text x="74.7" y="642.62" font-size="11.45">sh/LINC01426#1</text>
<rect x="60.4" y="647.5" width="12.6" height="5.6" fill="#C0C0C0" stroke="#000" stroke-width="1.1"/>
<text x="74.7" y="654.32" font-size="11.45">sh/LINC01426#1+SAG</text>
<text x="127.6" y="686.1" font-size="11.3">Calu3</text>
<text x="20.36" y="722" font-size="11.55" text-anchor="middle" transform="rotate(-90 20.36 722)">Relative RNA level</text>
<text x="81.8" y="812.07" font-size="11.3" text-anchor="middle">NANOG</text>
<text x="145.1" y="812.07" font-size="11.3" text-anchor="middle">OCT4</text>
<rect x="253.9" y="675.5" width="107.6" height="26.1" fill="#D7D7D7"/>
<rect x="258.5" y="685.4" width="29.5" height="6" rx="6.5" ry="3" fill="#303030" filter="url(#b1)"/>
<rect x="293.2" y="687.3" width="27.8" height="4" rx="6.5" ry="2" fill="#2c2c2c" filter="url(#b1)"/>
<rect x="326" y="684.4" width="28.5" height="8" rx="7.2" ry="4" fill="#292929" filter="url(#b1)"/>
<rect x="253.9" y="703.9" width="107.6" height="25.9" fill="#D7D7D7"/>
<rect x="258.4" y="713.9" width="30.2" height="6" rx="6.5" ry="3" fill="#303030" filter="url(#b1)"/>
<rect x="293.7" y="716.1" width="26" height="3.8" rx="6.5" ry="1.9" fill="#404040" filter="url(#b1)"/>
<rect x="325.4" y="712.9" width="29.2" height="8" rx="7.2" ry="4" fill="#292929" filter="url(#b1)"/>
<rect x="253.9" y="731.9" width="107.6" height="25.7" fill="#D7D7D7"/>
<rect x="258.6" y="740" width="29.2" height="8.8" rx="7.92" ry="4.4" fill="#292929" filter="url(#b1)"/>
<rect x="291.4" y="739.9" width="30" height="9.8" rx="8.82" ry="4.9" fill="#292929" filter="url(#b1)"/>
<rect x="325.8" y="740.2" width="29.4" height="8.6" rx="7.74" ry="4.3" fill="#292929" filter="url(#b1)"/>
<rect x="363.8" y="675.5" width="108.1" height="26.1" fill="#D7D7D7"/>
<rect x="368.7" y="685.4" width="28.8" height="6" rx="6.5" ry="3" fill="#303030" filter="url(#b1)"/>
<rect x="403" y="687" width="26.2" height="4" rx="6.5" ry="2" fill="#2c2c2c" filter="url(#b1)"/>
<rect x="435.1" y="684.8" width="29.8" height="8" rx="7.2" ry="4" fill="#292929" filter="url(#b1)"/>
<rect x="363.8" y="703.9" width="108.1" height="25.9" fill="#D7D7D7"/>
<rect x="369.7" y="714" width="28.4" height="6" rx="6.5" ry="3" fill="#303030" filter="url(#b1)"/>
<rect x="404.4" y="715.8" width="25.8" height="4" rx="6.5" ry="2" fill="#2c2c2c" filter="url(#b1)"/>
<rect x="436.2" y="713.6" width="28.7" height="8" rx="7.2" ry="4" fill="#292929" filter="url(#b1)"/>
<rect x="363.8" y="731.9" width="108.1" height="25.7" fill="#D7D7D7"/>
<rect x="368.3" y="739.4" width="30.2" height="10" rx="9" ry="5" fill="#292929" filter="url(#b1)"/>
<rect x="402.4" y="740" width="29.8" height="10" rx="9" ry="5" fill="#292929" filter="url(#b1)"/>
<rect x="435.1" y="740.3" width="30.9" height="9" rx="8.1" ry="4.5" fill="#292929" filter="url(#b1)"/>
<text x="312.2" y="672.57" font-size="11.3" text-anchor="middle">PC-9</text>
<text x="417.9" y="672.67" font-size="11.3" text-anchor="middle">Calu3</text>
<text x="251.4" y="693.9" font-size="11.3" text-anchor="end">NANOG</text>
<text x="251.4" y="719.6" font-size="11.3" text-anchor="end">OCT4</text>
<text x="251.4" y="749.7" font-size="11.3" text-anchor="end">GAPDH</text>
<text x="472.3" y="673" font-size="11.3">kDa</text>
<text x="475.2" y="692.6" font-size="11.3">38</text>
<text x="475.2" y="721.7" font-size="11.3">39</text>
<text x="475.2" y="750.3" font-size="11.3">36</text>
<text x="276.2" y="768.4" font-size="11.5" text-anchor="end" transform="rotate(-30 276.2 768.4)">sh/Ctrl</text>
<text x="314" y="770" font-size="11.5" text-anchor="end" transform="rotate(-30 314 770)">sh/LINC01426#1</text>
<text x="352" y="769.4" font-size="11.5" text-anchor="end" transform="rotate(-30 352 769.4)">sh/LINC01426#1+SAG</text>
<text x="388.1" y="768.4" font-size="11.5" text-anchor="end" transform="rotate(-30 388.1 768.4)">sh/Ctrl</text>
<text x="426" y="770" font-size="11.5" text-anchor="end" transform="rotate(-30 426 770)">sh/LINC01426#1</text>
<text x="465.6" y="769" font-size="11.5" text-anchor="end" transform="rotate(-30 465.6 769)">sh/LINC01426#1+SAG</text>
<line x1="542" y1="652.65" x2="542" y2="799.75" stroke="#000" stroke-width="1.7"/>
<line x1="541.15" y1="798.9" x2="666" y2="798.9" stroke="#000" stroke-width="1.7"/>
<line x1="535.8" y1="653.5" x2="542" y2="653.5" stroke="#000" stroke-width="1.5"/>
<text x="534.2" y="657.35" font-size="10.7" text-anchor="end" font-weight="bold" fill="#000">1.5</text>
<line x1="535.8" y1="702" x2="542" y2="702" stroke="#000" stroke-width="1.5"/>
<text x="534.2" y="705.85" font-size="10.7" text-anchor="end" font-weight="bold" fill="#000">1.0</text>
<line x1="535.8" y1="750.4" x2="542" y2="750.4" stroke="#000" stroke-width="1.5"/>
<text x="534.2" y="754.25" font-size="10.7" text-anchor="end" font-weight="bold" fill="#000">0.5</text>
<line x1="535.8" y1="798.9" x2="542" y2="798.9" stroke="#000" stroke-width="1.5"/>
<text x="534.2" y="802.75" font-size="10.7" text-anchor="end" font-weight="bold" fill="#000">0.0</text>
<line x1="555.65" y1="692.4" x2="555.65" y2="702.3" stroke="#000" stroke-width="1.3"/>
<line x1="551.95" y1="692.4" x2="559.35" y2="692.4" stroke="#000" stroke-width="1.5"/>
<rect x="549.4" y="702.3" width="12.5" height="96.6" fill="#FFFFFF" stroke="#000" stroke-width="1.3"/>
<line x1="572.55" y1="771.2" x2="572.55" y2="774.4" stroke="#000" stroke-width="1.3"/>
<line x1="568.85" y1="771.2" x2="576.25" y2="771.2" stroke="#000" stroke-width="1.5"/>
<rect x="566.5" y="774.4" width="12.1" height="24.5" fill="#8080C4" stroke="#000" stroke-width="1.3"/>
<line x1="589.15" y1="689.2" x2="589.15" y2="699.7" stroke="#000" stroke-width="1.3"/>
<line x1="585.45" y1="689.2" x2="592.85" y2="689.2" stroke="#000" stroke-width="1.5"/>
<rect x="583.2" y="699.7" width="11.9" height="99.2" fill="#C0C0C0" stroke="#000" stroke-width="1.3"/>
<line x1="619.4" y1="689.7" x2="619.4" y2="702.3" stroke="#000" stroke-width="1.3"/>
<line x1="615.7" y1="689.7" x2="623.1" y2="689.7" stroke="#000" stroke-width="1.5"/>
<rect x="613.3" y="702.3" width="12.2" height="96.6" fill="#FFFFFF" stroke="#000" stroke-width="1.3"/>
<line x1="635.9" y1="775.3" x2="635.9" y2="777.9" stroke="#000" stroke-width="1.3"/>
<line x1="632.2" y1="775.3" x2="639.6" y2="775.3" stroke="#000" stroke-width="1.5"/>
<rect x="630" y="777.9" width="11.8" height="21" fill="#8080C4" stroke="#000" stroke-width="1.3"/>
<line x1="652.7" y1="680.4" x2="652.7" y2="694.7" stroke="#000" stroke-width="1.3"/>
<line x1="649" y1="680.4" x2="656.4" y2="680.4" stroke="#000" stroke-width="1.5"/>
<rect x="646.7" y="694.7" width="12" height="104.2" fill="#C0C0C0" stroke="#000" stroke-width="1.3"/>
<line x1="549.8" y1="688.5" x2="577.8" y2="688.5" stroke="#3a3a3a" stroke-width="1"/>
<text x="563.8" y="690.95" font-size="11.3" text-anchor="middle" fill="#222">**</text>
<line x1="567.3" y1="681.5" x2="595.1" y2="681.5" stroke="#3a3a3a" stroke-width="1"/>
<text x="581.2" y="683.95" font-size="11.3" text-anchor="middle" fill="#222">**</text>
<line x1="611.7" y1="687.5" x2="639.7" y2="687.5" stroke="#3a3a3a" stroke-width="1"/>
<text x="625.7" y="689.95" font-size="11.3" text-anchor="middle" fill="#222">**</text>
<line x1="629.5" y1="678.5" x2="657.3" y2="678.5" stroke="#3a3a3a" stroke-width="1"/>
<text x="643.4" y="680.95" font-size="11.3" text-anchor="middle" fill="#222">**</text>
<rect x="549.8" y="626.2" width="12.9" height="5.6" fill="#FFFFFF" stroke="#000" stroke-width="1.1"/>
<text x="564.7" y="631.82" font-size="11.45">sh/Ctrl</text>
<rect x="549.8" y="636.5" width="12.9" height="5.6" fill="#8080C4" stroke="#000" stroke-width="1.1"/>
<text x="564.7" y="642.72" font-size="11.45">sh/LINC01426#1</text>
<rect x="549.8" y="647.7" width="12.9" height="5.6" fill="#C0C0C0" stroke="#000" stroke-width="1.1"/>
<text x="564.7" y="654.52" font-size="11.45">sh/LINC01426#1+SAG</text>
<text x="514.76" y="726.4" font-size="11.55" text-anchor="middle" transform="rotate(-90 514.76 726.4)">Relative sphere formation efficiency</text>
<text x="572" y="812.67" font-size="11.3" text-anchor="middle">PC-9</text>
<text x="636" y="812.67" font-size="11.3" text-anchor="middle">Calu3</text>
</svg>
</body></html>
